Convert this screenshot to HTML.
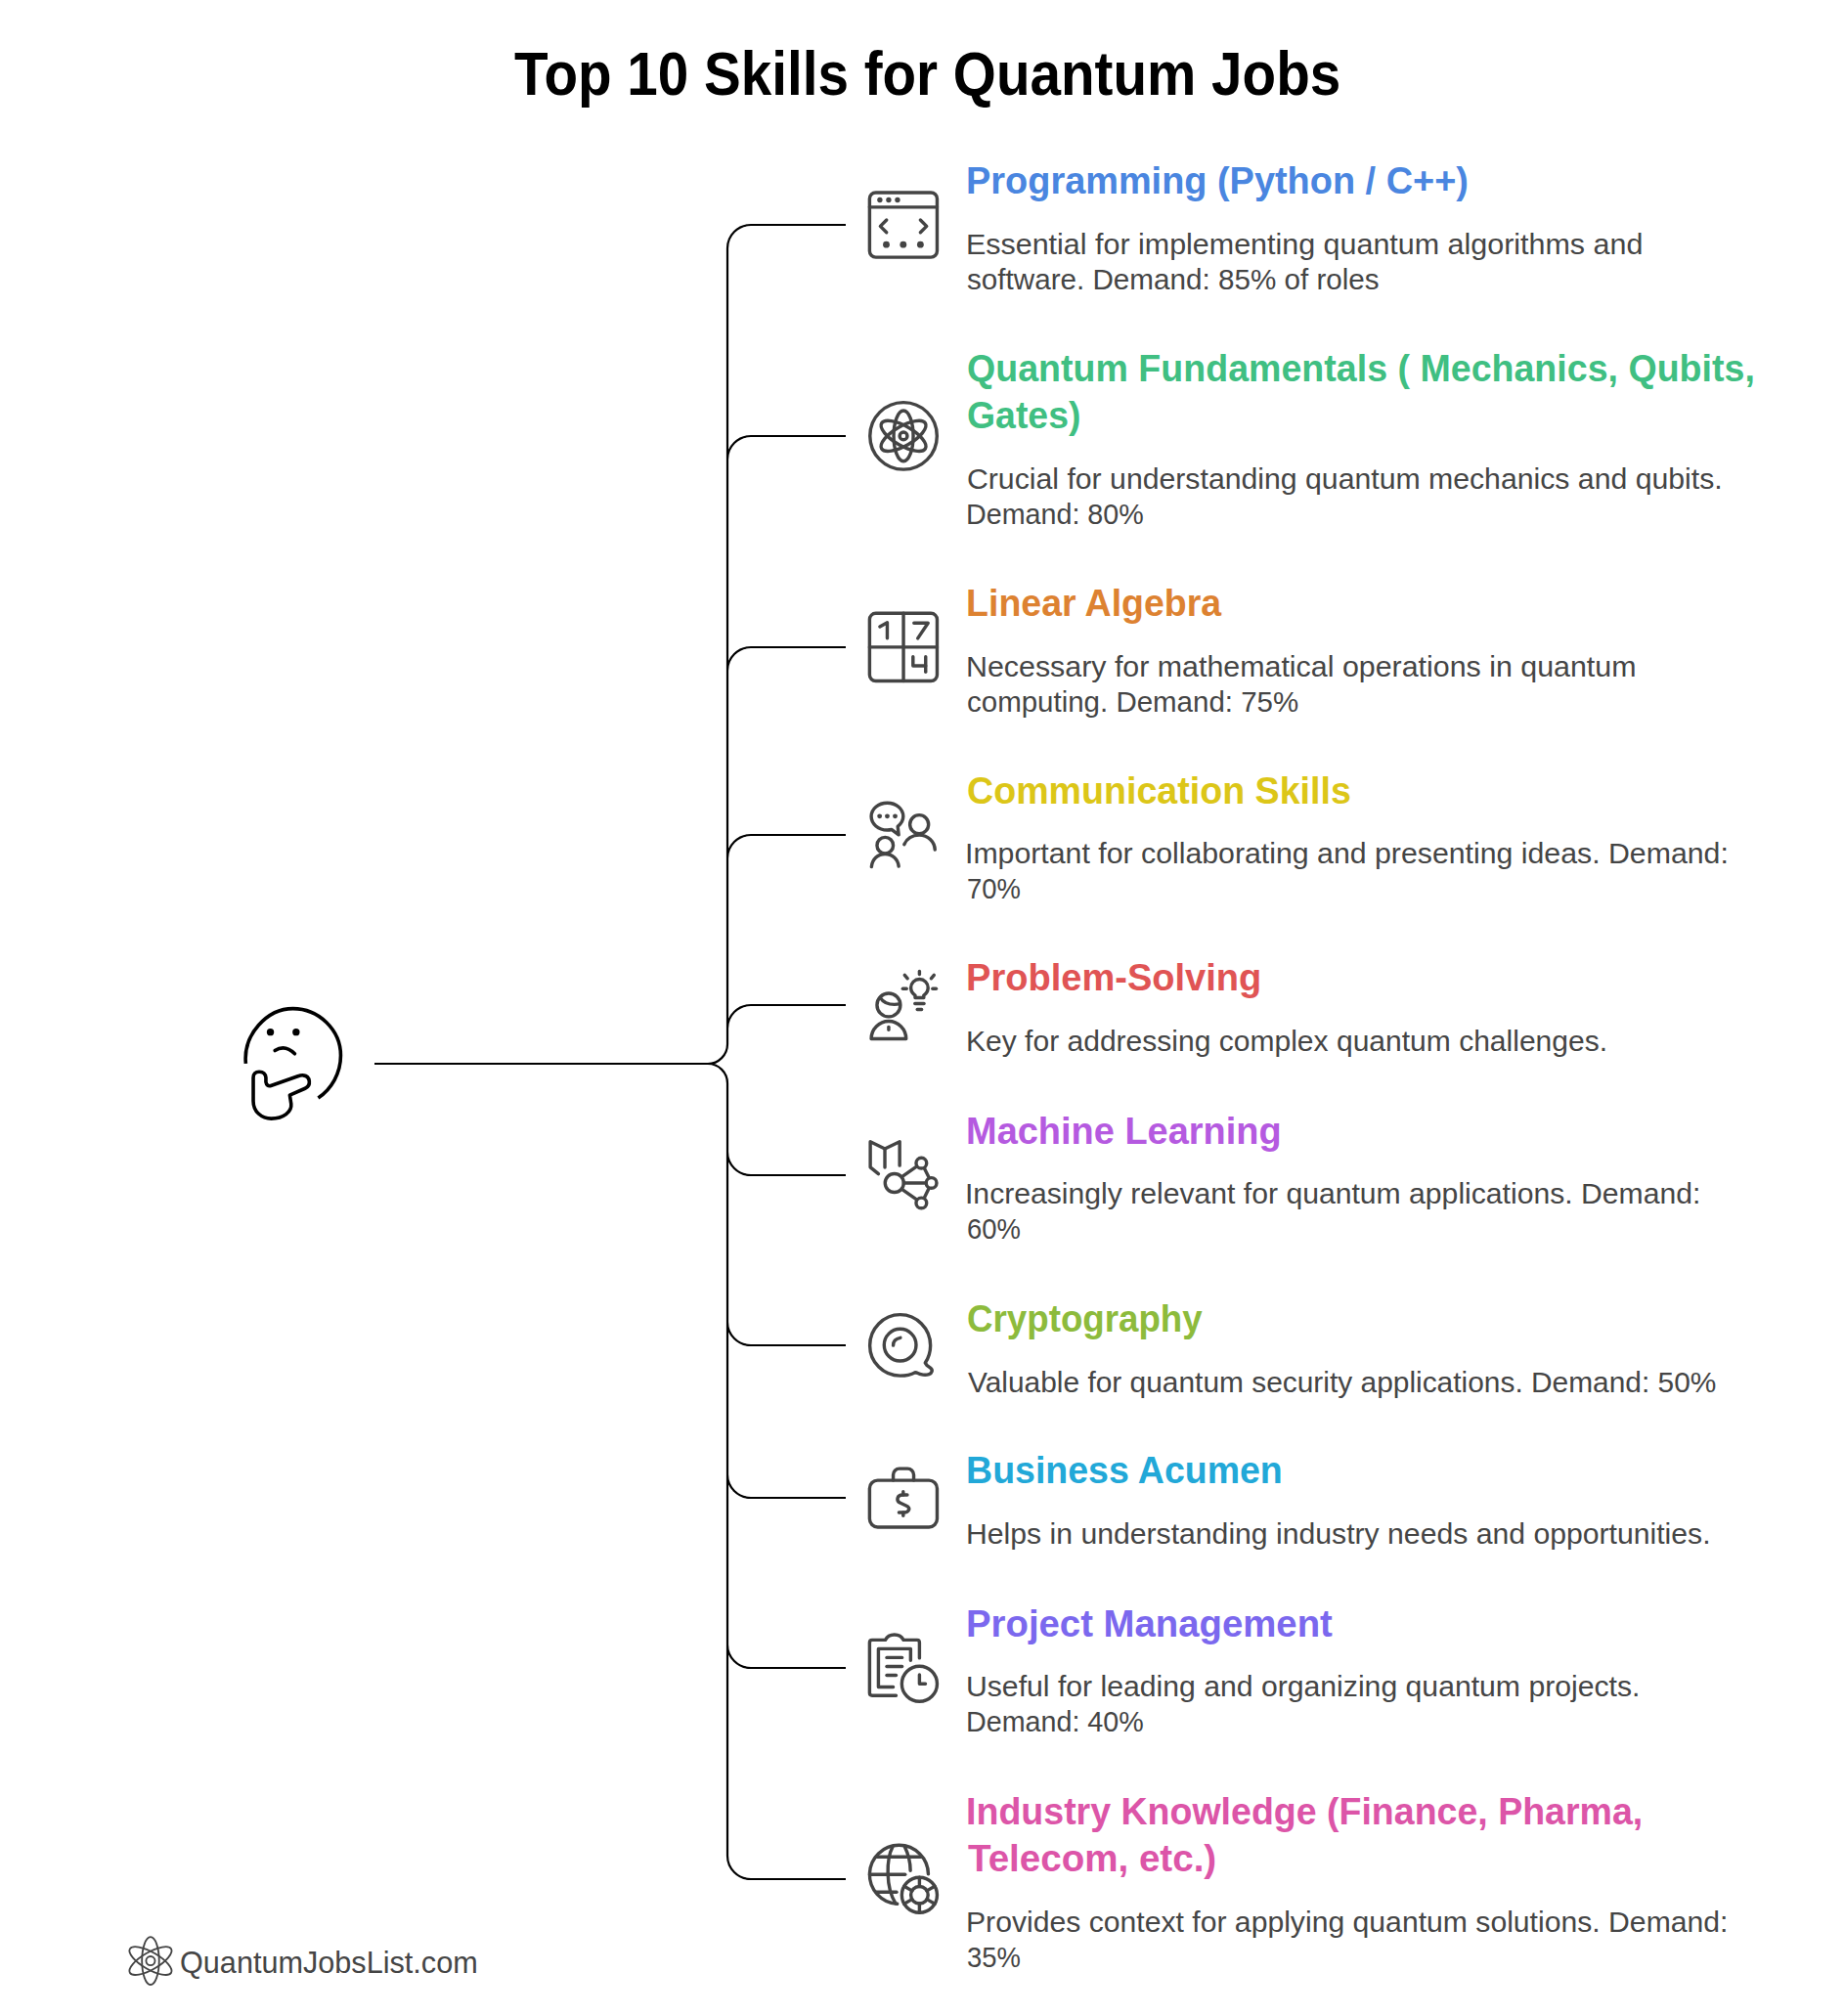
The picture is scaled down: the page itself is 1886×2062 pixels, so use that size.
<!DOCTYPE html>
<html><head><meta charset="utf-8"><title>Top 10 Skills for Quantum Jobs</title>
<style>html,body{margin:0;padding:0;background:#fff;}body{width:1886px;height:2062px;overflow:hidden;}svg{display:block;font-family:"Liberation Sans", sans-serif;}</style>
</head><body>
<svg width="1886" height="2062" viewBox="0 0 1886 2062">
<path d="M383,1088 H724 M724,1088 A20,20 0 0 0 744,1068 V254 A24,24 0 0 1 768,230 H865 M724,1088 A20,20 0 0 0 744,1068 V470 A24,24 0 0 1 768,446 H865 M724,1088 A20,20 0 0 0 744,1068 V686 A24,24 0 0 1 768,662 H865 M724,1088 A20,20 0 0 0 744,1068 V878 A24,24 0 0 1 768,854 H865 M724,1088 A20,20 0 0 0 744,1068 V1052 A24,24 0 0 1 768,1028 H865 M724,1088 A20,20 0 0 1 744,1108 V1178 A24,24 0 0 0 768,1202 H865 M724,1088 A20,20 0 0 1 744,1108 V1352 A24,24 0 0 0 768,1376 H865 M724,1088 A20,20 0 0 1 744,1108 V1508 A24,24 0 0 0 768,1532 H865 M724,1088 A20,20 0 0 1 744,1108 V1682 A24,24 0 0 0 768,1706 H865 M724,1088 A20,20 0 0 1 744,1108 V1898 A24,24 0 0 0 768,1922 H865" fill="none" stroke="#000" stroke-width="2.2"/><g transform="translate(230,1010) scale(0.092191)" fill="none" stroke="#000" stroke-width="39" stroke-linecap="butt" stroke-linejoin="round">
<path d="M232,845 C200,520 470,235 755,235 C1040,235 1285,470 1285,755 C1285,950 1185,1125 1035,1225"/>
<path d="M555,700 C630,650 700,660 775,735" stroke-linecap="round"/>
<g fill="#000" stroke="none"><circle cx="505" cy="495" r="40"/><circle cx="790" cy="495" r="40"/></g>
<path d="M720,1195 L890,1120 C960,1090 950,985 870,975 C850,972 830,978 810,985 L510,1090 C480,1100 460,1080 455,1050 L455,1000 C450,950 420,935 380,935 C340,935 315,960 315,1000 L315,1260 C315,1380 410,1455 515,1455 C650,1455 745,1380 735,1290 Z"/>
</g><g transform="translate(125,1975) scale(0.065076)" fill="none" stroke="#444" stroke-width="28">
<ellipse cx="445" cy="470" rx="135" ry="375"/>
<ellipse cx="445" cy="470" rx="135" ry="375" transform="rotate(60 445 470)"/>
<ellipse cx="445" cy="470" rx="135" ry="375" transform="rotate(-60 445 470)"/>
<circle cx="445" cy="470" r="70"/>
</g><g transform="translate(875,185) scale(0.048807)" fill="none" stroke="#444444" stroke-width="70" stroke-linecap="round" stroke-linejoin="round">
<rect x="295" y="245" width="1415" height="1355" rx="130"/>
<line x1="295" y1="550" x2="1710" y2="550"/>
<g fill="#444" stroke="none"><circle cx="510" cy="400" r="55"/><circle cx="695" cy="400" r="55"/><circle cx="880" cy="400" r="55"/>
<circle cx="645" cy="1335" r="70"/><circle cx="1000" cy="1335" r="70"/><circle cx="1360" cy="1335" r="70"/></g>
<polyline points="650,820 520,950 650,1080"/><polyline points="1360,820 1490,950 1360,1080"/>
</g><g transform="translate(875,400) scale(0.048807)" fill="none" stroke="#444444" stroke-width="70" stroke-linecap="round" stroke-linejoin="round">
<circle cx="1005" cy="940" r="702"/>
<ellipse cx="1005" cy="940" rx="205" ry="530"/>
<ellipse cx="1005" cy="940" rx="205" ry="530" transform="rotate(60 1005 940)"/>
<ellipse cx="1005" cy="940" rx="205" ry="530" transform="rotate(-60 1005 940)"/>
<circle cx="1005" cy="940" r="80"/>
</g><g transform="translate(875,617) scale(0.048807)" fill="none" stroke="#444444" stroke-width="70" stroke-linecap="round" stroke-linejoin="round">
<rect x="295" y="210" width="1415" height="1420" rx="130"/>
<line x1="1005" y1="210" x2="1005" y2="1630"/><line x1="295" y1="920" x2="1710" y2="920"/>
<polyline points="510,490 665,405 665,735"/>
<polyline points="1225,415 1520,415 1305,735"/>
<polyline points="1205,1120 1205,1310 1470,1310"/><line x1="1470" y1="1120" x2="1470" y2="1440"/>
</g><g transform="translate(875,809) scale(0.048807)" fill="none" stroke="#444444" stroke-width="70" stroke-linecap="round" stroke-linejoin="round">
<path d="M760,810 C720,818 690,820 665,820 C480,820 330,692 330,535 C330,378 480,250 665,250 C850,250 1000,378 1000,535 C1000,620 955,690 885,745 L905,920 Z"/>
<g fill="#444" stroke="none"><circle cx="505" cy="530" r="50"/><circle cx="665" cy="530" r="50"/><circle cx="830" cy="530" r="50"/></g>
<circle cx="1335" cy="700" r="195"/>
<path d="M1020,1120 C1080,990 1200,925 1335,925 C1520,925 1655,1065 1665,1230"/>
<circle cx="620" cy="1140" r="170"/>
<path d="M335,1590 C350,1430 470,1320 620,1320 C770,1320 890,1430 905,1580"/>
</g><g transform="translate(875,983) scale(0.048807)" fill="none" stroke="#444444" stroke-width="70" stroke-linecap="round" stroke-linejoin="round">
<circle cx="695" cy="920" r="245"/>
<path d="M520,770 C590,880 700,935 930,900"/>
<path d="M330,1630 C330,1420 500,1260 695,1260 C890,1260 1060,1420 1060,1630 Z"/>
<line x1="695" y1="1380" x2="695" y2="1440"/>
<path d="M1250,770 L1250,720 C1180,670 1160,620 1160,560 C1160,460 1240,380 1340,380 C1440,380 1520,460 1520,560 C1520,620 1500,670 1430,720 L1430,770 Z"/>
<line x1="1245" y1="890" x2="1435" y2="890"/><line x1="1295" y1="1015" x2="1385" y2="1015"/>
<line x1="1340" y1="215" x2="1340" y2="275"/><line x1="1030" y1="295" x2="1090" y2="365"/><line x1="1645" y1="295" x2="1585" y2="365"/>
<line x1="990" y1="580" x2="1070" y2="580"/><line x1="1615" y1="580" x2="1690" y2="580"/>
</g><g transform="translate(875,1157) scale(0.048807)" fill="none" stroke="#444444" stroke-width="70" stroke-linecap="round" stroke-linejoin="round">
<polyline points="480,895 310,755 310,220 615,370 925,220 925,720"/>
<line x1="615" y1="370" x2="615" y2="760"/>
<circle cx="815" cy="1085" r="195"/>
<circle cx="1380" cy="670" r="110"/><circle cx="1590" cy="1085" r="110"/><circle cx="1380" cy="1505" r="110"/>
<line x1="980" y1="950" x2="1280" y2="740"/><line x1="1010" y1="1085" x2="1480" y2="1085"/><line x1="980" y1="1220" x2="1280" y2="1430"/>
<line x1="1440" y1="775" x2="1535" y2="965"/><line x1="1535" y1="1205" x2="1440" y2="1400"/>
</g><g transform="translate(875,1331) scale(0.048807)" fill="none" stroke="#444444" stroke-width="70" stroke-linecap="round" stroke-linejoin="round">
<path d="M1250,1490 C1160,1540 1050,1560 935,1560 C585,1560 300,1275 300,925 C300,575 585,280 935,280 C1285,280 1570,575 1570,925 C1570,1060 1530,1185 1460,1290 L1500,1345 L1570,1395 C1630,1440 1600,1510 1540,1530 C1480,1550 1420,1545 1370,1530 C1320,1515 1290,1490 1250,1490 Z"/>
<circle cx="935" cy="915" r="335"/>
<path d="M790,925 C790,840 850,780 940,765"/>
</g><g transform="translate(875,1487) scale(0.048807)" fill="none" stroke="#444444" stroke-width="70" stroke-linecap="round" stroke-linejoin="round">
<rect x="295" y="555" width="1415" height="980" rx="170"/>
<path d="M790,555 L790,440 C790,370 850,310 920,310 L1090,310 C1160,310 1220,370 1220,440 L1220,555"/>
<path d="M1085,860 L985,860 C870,860 840,985 940,1030 L1060,1085 C1170,1135 1120,1230 1010,1230 L910,1230"/>
<line x1="1000" y1="795" x2="1000" y2="860"/><line x1="1000" y1="1230" x2="1000" y2="1295"/>
</g><g transform="translate(875,1661) scale(0.048807)" fill="none" stroke="#444444" stroke-width="70" stroke-linecap="round" stroke-linejoin="round">
<path d="M850,1500 L350,1500 C318,1500 295,1477 295,1445 L295,390 C295,358 318,335 350,335 L625,335 C700,190 930,190 1005,335 L1290,335 C1320,335 1340,358 1340,390 L1340,715"/>
<polyline points="790,1320 480,1320 480,520 1155,520 1155,765"/>
<line x1="655" y1="705" x2="975" y2="705"/><line x1="655" y1="890" x2="975" y2="890"/><line x1="655" y1="1075" x2="850" y2="1075"/>
<circle cx="1340" cy="1255" r="370"/>
<polyline points="1340,1065 1340,1255 1465,1255"/>
</g><g transform="translate(875,1877) scale(0.048807)" fill="none" stroke="#444444" stroke-width="70" stroke-linecap="round" stroke-linejoin="round">
<path d="M875,1440 A615,615 0 1 1 1525,815"/>
<path d="M780,240 C640,500 630,1100 840,1430"/>
<path d="M1030,240 C1100,380 1150,600 1150,745"/>
<line x1="430" y1="455" x2="1375" y2="455"/><line x1="300" y1="825" x2="1040" y2="825"/><line x1="430" y1="1195" x2="860" y2="1195"/>
<circle cx="1340" cy="1255" r="370"/><circle cx="1340" cy="1255" r="180"/>
<line x1="1340" y1="1075" x2="1340" y2="885"/><line x1="1496" y1="1165" x2="1660" y2="1070"/><line x1="1496" y1="1345" x2="1660" y2="1440"/><line x1="1340" y1="1435" x2="1340" y2="1625"/><line x1="1184" y1="1165" x2="1020" y2="1070"/><line x1="1184" y1="1345" x2="1020" y2="1440"/>
</g>
<text x="526.00" y="97" font-size="63" font-weight="700" fill="#000" textLength="845.23" lengthAdjust="spacingAndGlyphs">Top 10 Skills for Quantum Jobs</text>
<text x="988.07" y="198" font-size="39" font-weight="700" fill="#4A86E0" textLength="513.83" lengthAdjust="spacingAndGlyphs">Programming (Python / C++)</text>
<text x="987.97" y="259.5" font-size="30" font-weight="400" fill="#454545" textLength="692.39" lengthAdjust="spacingAndGlyphs">Essential for implementing quantum algorithms and</text>
<text x="989.01" y="295.5" font-size="30" font-weight="400" fill="#454545" textLength="421.65" lengthAdjust="spacingAndGlyphs">software. Demand: 85% of roles</text>
<text x="989.05" y="390" font-size="39" font-weight="700" fill="#40BF82" textLength="805.79" lengthAdjust="spacingAndGlyphs">Quantum Fundamentals ( Mechanics, Qubits,</text>
<text x="989.06" y="438" font-size="39" font-weight="700" fill="#40BF82" textLength="116.35" lengthAdjust="spacingAndGlyphs">Gates)</text>
<text x="988.99" y="499.5" font-size="30" font-weight="400" fill="#454545" textLength="772.73" lengthAdjust="spacingAndGlyphs">Crucial for understanding quantum mechanics and qubits.</text>
<text x="988.09" y="535.5" font-size="30" font-weight="400" fill="#454545" textLength="181.67" lengthAdjust="spacingAndGlyphs">Demand: 80%</text>
<text x="988.10" y="630" font-size="39" font-weight="700" fill="#DD8231" textLength="261.04" lengthAdjust="spacingAndGlyphs">Linear Algebra</text>
<text x="987.97" y="691.5" font-size="30" font-weight="400" fill="#454545" textLength="685.55" lengthAdjust="spacingAndGlyphs">Necessary for mathematical operations in quantum</text>
<text x="989.02" y="727.5" font-size="30" font-weight="400" fill="#454545" textLength="339.16" lengthAdjust="spacingAndGlyphs">computing. Demand: 75%</text>
<text x="989.05" y="821.5" font-size="39" font-weight="700" fill="#DCC618" textLength="392.78" lengthAdjust="spacingAndGlyphs">Communication Skills</text>
<text x="986.97" y="883.0" font-size="30" font-weight="400" fill="#454545" textLength="780.85" lengthAdjust="spacingAndGlyphs">Important for collaborating and presenting ideas. Demand:</text>
<text x="989.09" y="919.0" font-size="30" font-weight="400" fill="#454545" textLength="54.87" lengthAdjust="spacingAndGlyphs">70%</text>
<text x="988.06" y="1013" font-size="39" font-weight="700" fill="#E05454" textLength="302.26" lengthAdjust="spacingAndGlyphs">Problem-Solving</text>
<text x="988.00" y="1074.5" font-size="30" font-weight="400" fill="#454545" textLength="656.08" lengthAdjust="spacingAndGlyphs">Key for addressing complex quantum challenges.</text>
<text x="988.07" y="1169.5" font-size="39" font-weight="700" fill="#B55AE0" textLength="322.54" lengthAdjust="spacingAndGlyphs">Machine Learning</text>
<text x="986.99" y="1231.0" font-size="30" font-weight="400" fill="#454545" textLength="752.38" lengthAdjust="spacingAndGlyphs">Increasingly relevant for quantum applications. Demand:</text>
<text x="989.09" y="1267.0" font-size="30" font-weight="400" fill="#454545" textLength="54.87" lengthAdjust="spacingAndGlyphs">60%</text>
<text x="989.09" y="1362" font-size="39" font-weight="700" fill="#8DBB3C" textLength="240.60" lengthAdjust="spacingAndGlyphs">Cryptography</text>
<text x="990.00" y="1423.5" font-size="30" font-weight="400" fill="#454545" textLength="765.41" lengthAdjust="spacingAndGlyphs">Valuable for quantum security applications. Demand: 50%</text>
<text x="988.10" y="1517" font-size="39" font-weight="700" fill="#22A8D8" textLength="323.69" lengthAdjust="spacingAndGlyphs">Business Acumen</text>
<text x="987.99" y="1578.5" font-size="30" font-weight="400" fill="#454545" textLength="761.60" lengthAdjust="spacingAndGlyphs">Helps in understanding industry needs and opportunities.</text>
<text x="988.04" y="1673.5" font-size="39" font-weight="700" fill="#7B68EE" textLength="374.80" lengthAdjust="spacingAndGlyphs">Project Management</text>
<text x="987.99" y="1735.0" font-size="30" font-weight="400" fill="#454545" textLength="689.45" lengthAdjust="spacingAndGlyphs">Useful for leading and organizing quantum projects.</text>
<text x="988.09" y="1771.0" font-size="30" font-weight="400" fill="#454545" textLength="181.67" lengthAdjust="spacingAndGlyphs">Demand: 40%</text>
<text x="988.10" y="1866" font-size="39" font-weight="700" fill="#DC55A8" textLength="692.10" lengthAdjust="spacingAndGlyphs">Industry Knowledge (Finance, Pharma,</text>
<text x="990.01" y="1914" font-size="39" font-weight="700" fill="#DC55A8" textLength="254.18" lengthAdjust="spacingAndGlyphs">Telecom, etc.)</text>
<text x="987.99" y="1975.5" font-size="30" font-weight="400" fill="#454545" textLength="779.46" lengthAdjust="spacingAndGlyphs">Provides context for applying quantum solutions. Demand:</text>
<text x="989.09" y="2011.5" font-size="30" font-weight="400" fill="#454545" textLength="54.87" lengthAdjust="spacingAndGlyphs">35%</text>
<text x="183.99" y="2017.5" font-size="30.5" font-weight="400" fill="#454545" textLength="304.75" lengthAdjust="spacingAndGlyphs">QuantumJobsList.com</text>
</svg>
</body></html>
